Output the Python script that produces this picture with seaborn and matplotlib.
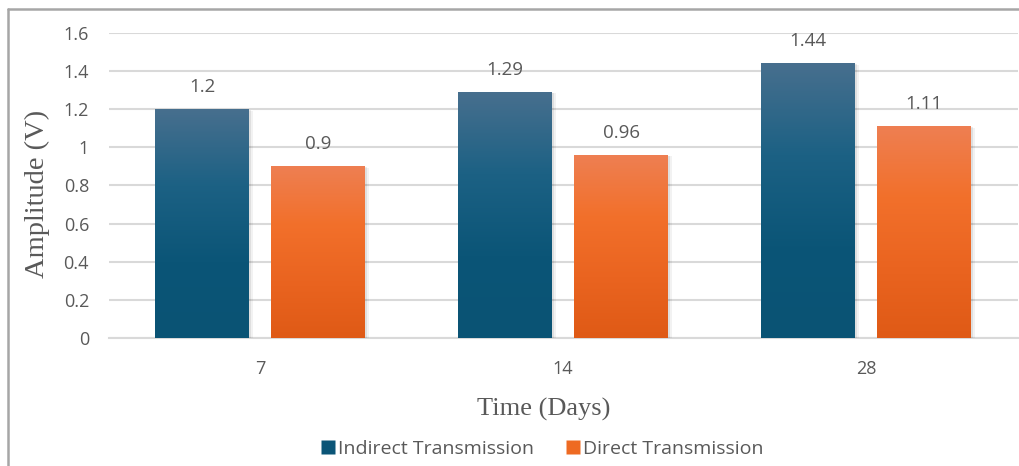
import numpy as np
import pandas as pd
import matplotlib
matplotlib.use("Agg")
import matplotlib.pyplot as plt
import matplotlib.patheffects as pe
from matplotlib.colors import LinearSegmentedColormap
from matplotlib.lines import Line2D
import seaborn as sns

# Measured amplitudes per curing age
days = ["7", "14", "28"]
indirect = [1.2, 1.29, 1.44]
direct = [0.9, 0.96, 1.11]
series_names = ["Indirect Transmission", "Direct Transmission"]

df = pd.DataFrame({
    "Time": days * 2,
    "Amplitude": indirect + direct,
    "Series": [series_names[0]] * len(days) + [series_names[1]] * len(days),
})

sns.set_theme(style="white")
plt.rcParams["font.family"] = ["Open Sans", "DejaVu Sans"]

text_grey = "#595959"
grid_grey = "#D9D9D9"
base_colors = {series_names[0]: "#0B5577", series_names[1]: "#EE6A22"}
gradients = {
    series_names[0]: LinearSegmentedColormap.from_list(
        "blue_grad", ["#0A5374", "#0B5577", "#1C6184", "#476F8E"]),
    series_names[1]: LinearSegmentedColormap.from_list(
        "orange_grad", ["#DF5A16", "#EA6420", "#F2702B", "#EE7F52"]),
}

fig = plt.figure(figsize=(10.19, 4.66), dpi=100)
ax = fig.add_axes([108.5 / 1019, 0.2747, 909 / 1019, 0.6545])

sns.barplot(data=df, x="Time", y="Amplitude", hue="Series",
            palette=base_colors, width=0.766, gap=0.19,
            order=days, hue_order=series_names,
            legend=False, ax=ax, zorder=3)

# Gradient fill + soft shadow for every bar
ramp = np.linspace(0, 1, 256).reshape(-1, 1)
bars = list(ax.patches)
for i, bar in enumerate(bars):
    series = series_names[i // len(days)]
    x0, w, h = bar.get_x(), bar.get_width(), bar.get_height()
    bar.set_edgecolor("none")
    bar.set_path_effects([
        pe.SimplePatchShadow(offset=(3, -1), shadow_rgbFace="#000000", alpha=0.05),
        pe.SimplePatchShadow(offset=(1.5, -0.5), shadow_rgbFace="#000000", alpha=0.08),
        pe.Normal(),
    ])
    im = ax.imshow(ramp, cmap=gradients[series], origin="lower",
                   extent=[x0, x0 + w, 0, h], aspect="auto", zorder=4,
                   interpolation="bicubic")
    im.set_clip_path(bar)
    value = h
    ax.annotate(f"{value:g}", (x0 + w / 2, value), xytext=(0, 16),
                textcoords="offset points", ha="center", va="center",
                fontsize=13.5, color=text_grey, zorder=5)

ax.set_xlim(-0.5, len(days) - 0.5)
ax.set_ylim(0, 1.6)
ax.set_yticks(np.arange(0, 1.61, 0.2))
ax.set_yticklabels(["0", "0.2", "0.4", "0.6", "0.8", "1", "1.2", "1.4", "1.6"])
ax.grid(axis="y", color=grid_grey, linewidth=1.5, zorder=0)
ax.grid(axis="x", visible=False)
for side in ["top", "right", "left"]:
    ax.spines[side].set_visible(False)
ax.spines["bottom"].set_color(grid_grey)
ax.spines["bottom"].set_linewidth(1.5)
ax.tick_params(axis="y", length=0, pad=14, labelsize=13, labelcolor=text_grey)
ax.tick_params(axis="x", length=0, pad=16, labelsize=13, labelcolor=text_grey)

ax.set_xlabel("Time (Days)", family="Liberation Serif", fontsize=19,
              color=text_grey)
ax.xaxis.set_label_coords((544 - 108.5) / 909, (338 - 398) / 305, transform=ax.transAxes)
ax.set_ylabel("Amplitude (V)", family="Liberation Serif", fontsize=20.5,
              color=text_grey, va="center")
ax.yaxis.set_label_coords((37 - 108.5) / 909, (338 - 194) / 305)

handles = [Line2D([], [], marker="s", linestyle="none", markersize=10,
                  markerfacecolor=base_colors[s], markeredgecolor="none")
           for s in series_names]
fig.legend(handles, series_names, loc="center", bbox_to_anchor=(542 / 1019, 1 - 449 / 466),
           ncol=2, frameon=False, fontsize=14, labelcolor=text_grey,
           handletextpad=0.1, columnspacing=1.6, handlelength=0.8)

# Chart-area border (top and left edges)
fig.add_artist(Line2D([8 / 1019, 8 / 1019], [0, 1 - 9 / 466],
                      transform=fig.transFigure, color="#A6A6A6", linewidth=1.8))
fig.add_artist(Line2D([8 / 1019, 1], [1 - 9 / 466, 1 - 9 / 466],
                      transform=fig.transFigure, color="#A6A6A6", linewidth=1.8))

fig.savefig("out.png", dpi=100)
